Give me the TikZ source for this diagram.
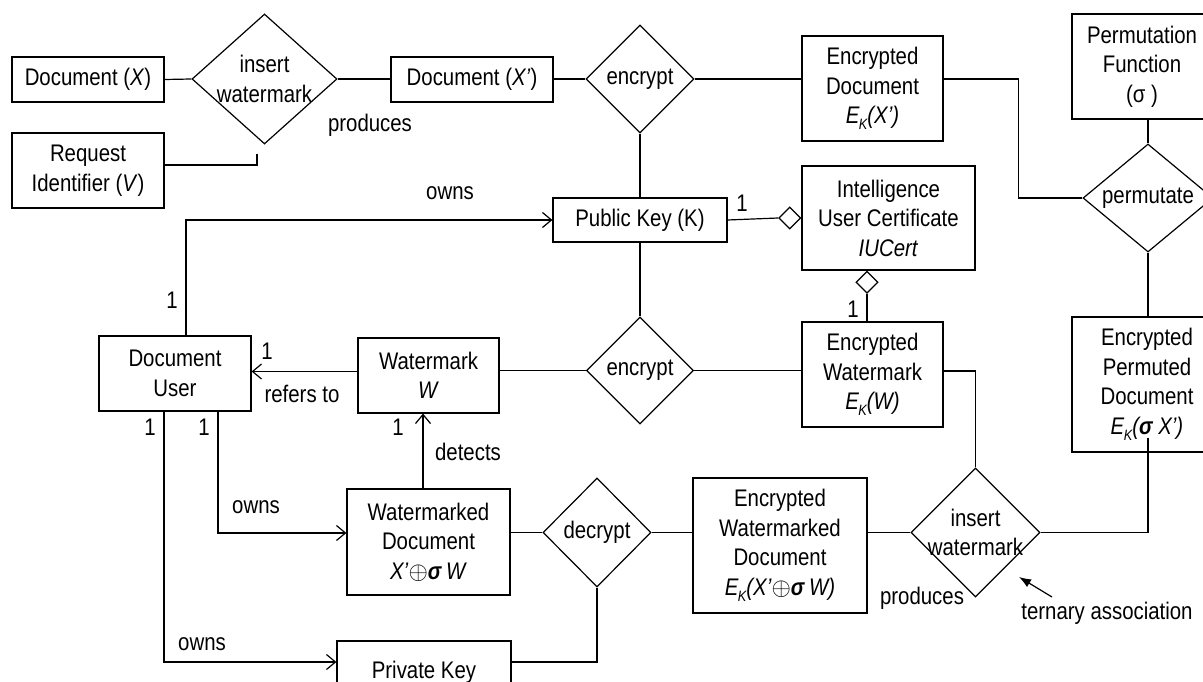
\documentclass[tikz,border=0pt]{standalone}
\usepackage{fontspec}
\setmainfont{Liberation Sans}[FakeStretch=0.85]
\usetikzlibrary{shapes.geometric,arrows.meta,calc}
\newcommand\fs{\fontsize{24}{29.5}\selectfont}
\newcommand\EK{\textit{E\kern-0.5pt\raisebox{-6pt}{\fontsize{15}{15}\selectfont K}}}
\begin{document}
\begin{tikzpicture}[x=1pt,y=-1pt,
  ent/.style={draw, line width=1.2pt, align=center, inner sep=0pt, font=\fs},
  rel/.style={draw, diamond, line width=1.2pt, inner sep=0pt, aspect=1},
  lbl/.style={font=\fs, inner sep=0pt},
  conn/.style={line width=1.2pt},
  arr/.style={conn, -{Straight Barb[length=9pt,width=15pt]}},
  agg/.style={draw, diamond, line width=1.2pt, inner sep=0pt, minimum width=22pt, minimum height=22pt, fill=white},
]
\useasboundingbox (0,0) rectangle (1203,682);
% entities
\node[ent, minimum width=152pt, minimum height=45pt] (docX) at (88,79.5) {Document (\textit{X})};
\node[ent, minimum width=152pt, minimum height=75pt] (reqV) at (88,170.5) {Request\\Identifier (\textit{V})};
\node[ent, minimum width=162pt, minimum height=45pt] (docXp) at (472,79.5) {Document (\textit{X’})};
\node[ent, minimum width=141pt, minimum height=105pt] (encDoc) at (872.5,88.5) {Encrypted\\Document\\\EK\textit{(X’)}};
\node[ent, minimum width=140pt, minimum height=105pt] (permF) at (1142,66.5) {Permutation\\Function\\(σ )};
\node[ent, minimum width=174pt, minimum height=44pt] (pubK) at (640,220) {Public Key (K)};
\node[ent, minimum width=173pt, minimum height=104pt] (iuc) at (888.5,218) {Intelligence\\User Certificate\\\textit{IUCert}};
\node[ent, minimum width=152pt, minimum height=75pt] (docU) at (175,373.5) {Document\\User};
\node[ent, minimum width=141pt, minimum height=75pt] (wm) at (428.5,375.5) {Watermark\\\textit{W}};
\node[ent, minimum width=141pt, minimum height=105pt] (encW) at (872.5,374.5) {Encrypted\\Watermark\\\EK\textit{(W)}};
\node[ent, minimum width=150pt, minimum height=135pt] (epd) at (1147,384.5) {Encrypted\\Permuted\\Document\\\EK\textit{(\textbf{σ} X’)}};
\node[ent, minimum width=163pt, minimum height=106pt] (wmDoc) at (428.5,542) {Watermarked\\Document\\\textit{X’}$\oplus$\textit{\textbf{σ}}\,\textit{W}};
\node[ent, minimum width=174pt, minimum height=135pt] (ewd) at (780,545.5) {Encrypted\\Watermarked\\Document\\\EK\textit{(X’}$\oplus$\textit{\textbf{σ}}\,\textit{W)}};
\node[ent, minimum width=174pt, minimum height=62pt] (privK) at (424,672) {Private Key};
% relationships
\node[rel, minimum width=145pt, minimum height=130pt, label={[lbl,align=center]center:insert\\watermark}] (iw1) at (264.5,79) {};
\node[rel, minimum width=108pt, minimum height=108pt, label={[lbl]center:encrypt}] (enc1) at (640,79) {};
\node[rel, minimum width=130pt, minimum height=108pt, label={[lbl]center:permutate}] (permute) at (1148,198) {};
\node[rel, minimum width=107pt, minimum height=107pt, label={[lbl]center:encrypt}] (enc2) at (640,370.5) {};
\node[rel, minimum width=108pt, minimum height=109pt, label={[lbl]center:decrypt}] (dec) at (597,532.5) {};
\node[rel, minimum width=129pt, minimum height=129pt, label={[lbl,align=center]center:insert\\watermark}] (iw2) at (975.5,532.5) {};
% aggregation diamonds
\node[agg, anchor=east] (agg1) at (iuc.west) {};
\node[agg, anchor=north] (agg2) at ($(iuc.south)+(-21.5,0)$) {};
% connectors
\draw[conn] (docX.east) -- (iw1.west);
\draw[conn] ([yshift=5.5pt]reqV.east) -| ([xshift=-7.5pt,yshift=-9pt]iw1.south);
\draw[conn] (iw1.east) -- (iw1.east -| docXp.west);
\draw[conn] (enc1.west) -- (enc1.west -| docXp.east);
\draw[conn] (enc1.east) -- (enc1.east -| encDoc.west);
\draw[conn] (enc1.south) -- (pubK.north);
\draw[conn] (enc1.east -| encDoc.east) -- ++(75,0) |- (permute.west);
\draw[conn] (permute.north) -- (permute.north |- permF.south);
\draw[conn] (permute.south) -- (permute.south |- epd.north);
\draw[conn] (pubK.east) -- (agg1.west);
\draw[conn] (agg2.south) -- (agg2.south |- encW.north);
\draw[arr] ([xshift=11pt]docU.north) |- (pubK.west);
\draw[arr] ([yshift=4pt]wm.west) -- ([yshift=4pt]wm.west -| docU.east);
\draw[conn] (enc2.west) -- (enc2.west -| wm.east);
\draw[conn] (enc2.east) -- (enc2.east -| encW.west);
\draw[conn] (pubK.south) -- (enc2.north);
\draw[conn] ([yshift=3.5pt]encW.east) -| (iw2.north);
\draw[arr] ([xshift=-5.5pt]wmDoc.north) -- ([xshift=-5.5pt]wmDoc.north |- wm.south);
\draw[arr] ([xshift=43pt]docU.south) |- ([yshift=9pt]wmDoc.west);
\draw[arr] ([xshift=-11pt]docU.south) |- ([yshift=10pt]privK.west);
\draw[conn] (dec.west) -- (dec.west -| wmDoc.east);
\draw[conn] (dec.east) -- (dec.east -| ewd.west);
\draw[conn] ([yshift=10pt]privK.east) -| (dec.south);
\draw[conn] (iw2.west) -- (iw2.west -| ewd.east);
\draw[conn] (iw2.east) -| ($(permute.south |- epd.south)+(0,-15)$);
% labels
\node[lbl] (prod1) at (370,125) {produces};
\node[lbl] (prod2) at (922,598) {produces};
\node[lbl] (owns1) at (450,193) {owns};
\node[lbl] (owns2) at (256,507) {owns};
\node[lbl] (owns3) at (202,644) {owns};
\node[lbl] (refers) at (302,394) {refers to};
\node[lbl] (detects) at (468,452) {detects};
\node[lbl] (one1) at (742,203) {1};
\node[lbl] (one2) at (853,309) {1};
\node[lbl] (one3) at (172,300) {1};
\node[lbl] (one4) at (267,351) {1};
\node[lbl] (one5) at (150,427) {1};
\node[lbl] (one6) at (204,427) {1};
\node[lbl] (one7) at (398,427) {1};
\node[lbl] (tern) at (1107,613) {ternary association};
\coordinate (taS) at (1052,597);
\coordinate (taE) at (1019,577);
\draw[conn, -{Latex[length=12pt,width=9pt]}] (taS) -- (taE);
\end{tikzpicture}
\end{document}
